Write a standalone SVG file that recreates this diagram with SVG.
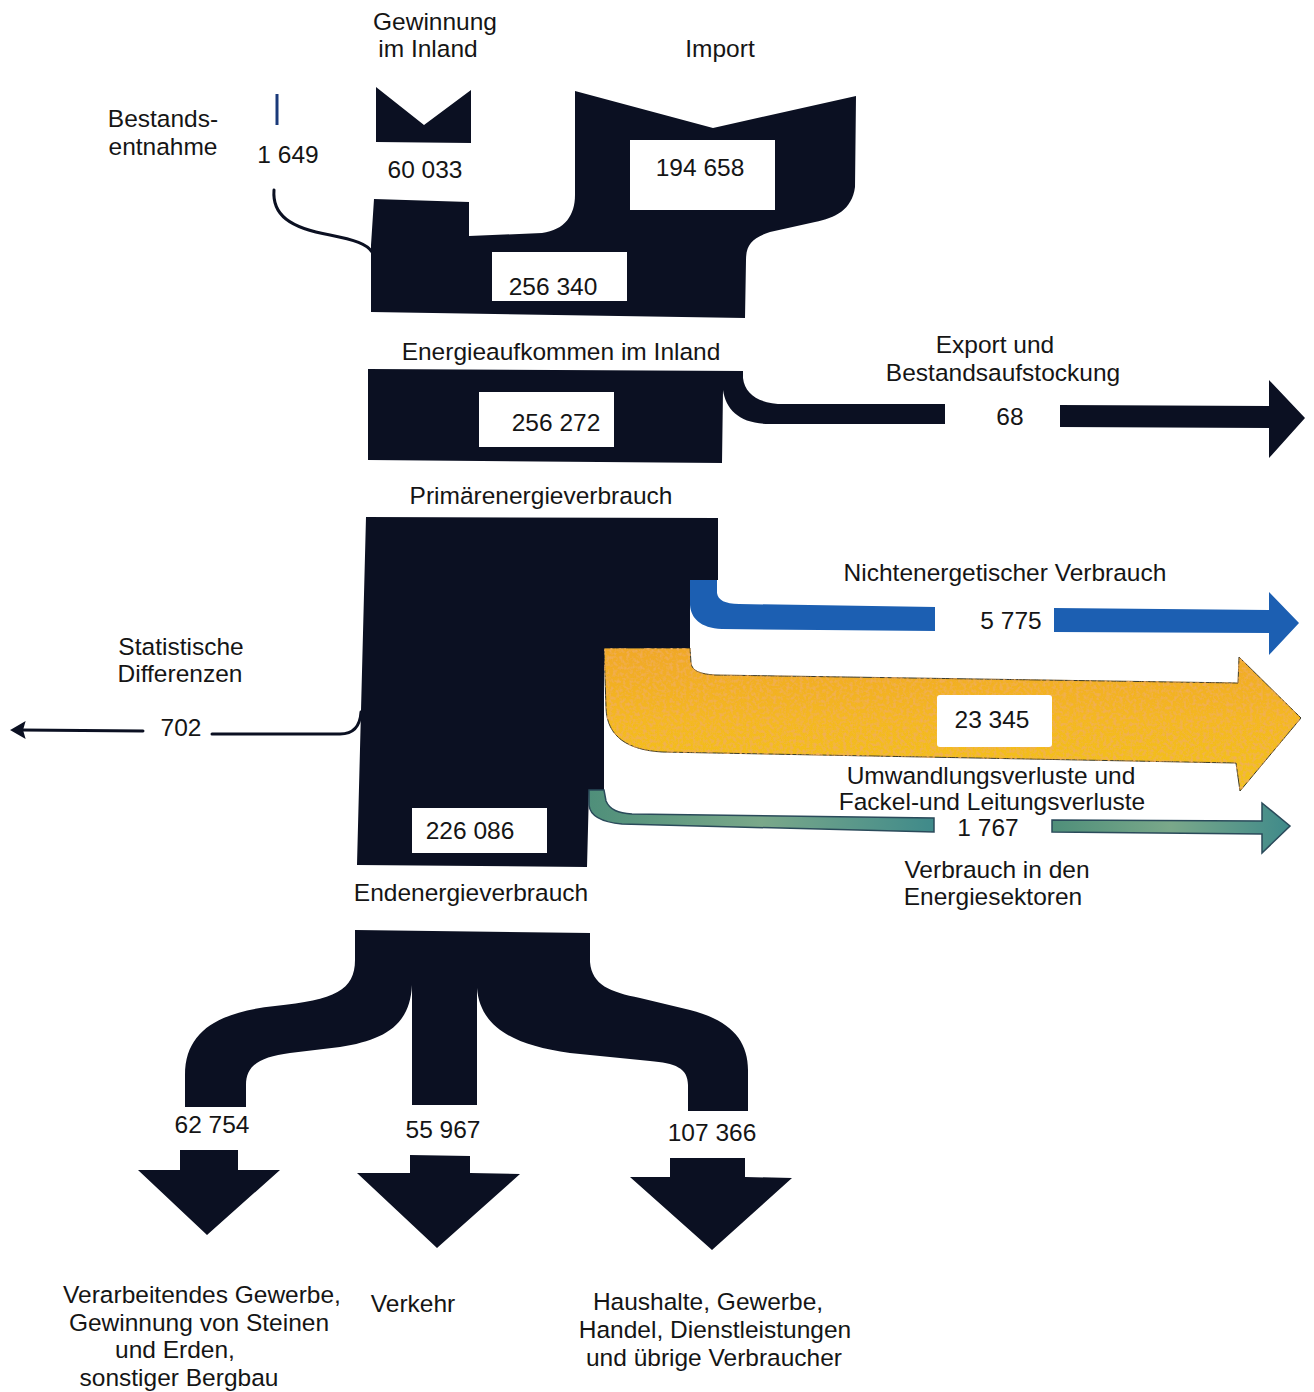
<svg xmlns="http://www.w3.org/2000/svg" width="1314" height="1392" viewBox="0 0 1314 1392">
<defs>
<style>
text{font-family:"Liberation Sans",Arial,sans-serif;font-size:24.5px;fill:#151515;text-anchor:middle}
.num{font-size:24.5px}
.dk{fill:#0b1022}
.box{fill:#ffffff}
.blue{fill:#1c5fb2}
.thin{fill:none;stroke:#0b1022;stroke-width:3;stroke-linecap:round}
</style>
<linearGradient id="og" x1="0" y1="0" x2="0" y2="1">
<stop offset="0" stop-color="#f0a828"/>
<stop offset="0.5" stop-color="#f4b820"/>
<stop offset="1" stop-color="#f2c21e"/>
</linearGradient>
<filter id="tex" x="0" y="0" width="1" height="1">
<feTurbulence type="fractalNoise" baseFrequency="0.3" numOctaves="2" seed="3" result="n"/>
<feColorMatrix in="n" type="matrix" values="0 0 0 0 0.88  0 0 0 0 0.42  0 0 0 0 0.1  2.5 0 0 0 -1.1" result="spots"/>
<feComposite in="spots" in2="SourceGraphic" operator="in" result="s2"/>
<feMerge><feMergeNode in="SourceGraphic"/><feMergeNode in="s2"/></feMerge>
</filter>
<linearGradient id="gg" x1="0" y1="0" x2="1" y2="0">
<stop offset="0" stop-color="#4f8f7a"/>
<stop offset="0.5" stop-color="#7aa88a"/>
<stop offset="1" stop-color="#3f8a8a"/>
</linearGradient>
</defs>

<g id="connectors">
<path id="c-bestand" d="M274,190 C272,215 290,228 330,235 C355,240 367,244 372,252" class="thin" stroke-width="2.5"/>
<line x1="277" y1="94" x2="277" y2="125" stroke="#1a3a7a" stroke-width="3"/>
<path id="c-stat" d="M361,712 C360,728 352,734 340,734 L212,734" class="thin"/>
<path d="M143,731 L22,730" class="thin"/>
<path d="M12,730 L24,723 L22,730 L24,737 Z" class="dk" stroke="#0b1022" stroke-width="2"/>
</g>

<g id="n-gewinnung">
<path class="dk" d="M376,87 L424,125 L471,90 L471,143 L376,142 Z"/>
<text x="435" y="30">Gewinnung</text>
<text x="428" y="57">im Inland</text>
<text class="num" x="425" y="178">60 033</text>
</g>

<g id="n-import-label">
<text x="720" y="57">Import</text>
</g>

<g id="n-bestand">
<text x="163" y="127">Bestands-</text>
<text x="163" y="155">entnahme</text>
<text class="num" x="288" y="163">1 649</text>
</g>

<g id="n-aufkommen">
<path class="dk" d="M374,199 L469,202 L469,236 L542,233 C565,230 575,215 575,195 L575,91 L713,128 L856,96 L855,187 C852,210 835,218 815,222 L770,232 C752,238 746,245 746,260 L745,318 L371,312 L371,245 Z"/>
<rect class="box" x="630" y="140" width="145" height="70"/>
<text class="num" x="700" y="176">194 658</text>
<rect class="box" x="492" y="252" width="135" height="49"/>
<text class="num" x="553" y="295">256 340</text>
<text x="561" y="360">Energieaufkommen im Inland</text>
</g>

<g id="n-primaer">
<path class="dk" d="M368,369 L743,371 L743,378 C745,395 760,404 784,404 L945,404 L945,424 L770,424 C740,424 726,410 723,390 L722,463 L368,460 Z"/>
<rect class="box" x="479" y="392" width="135" height="55"/>
<text class="num" x="556" y="431">256 272</text>
<text x="541" y="504">Primärenergieverbrauch</text>
</g>

<g id="n-export">
<path class="dk" d="M1060,405 L1269,406 L1269,380 L1305,418 L1269,458 L1269,428 L1060,427 Z"/>
<text x="995" y="353">Export und</text>
<text x="1003" y="381">Bestandsaufstockung</text>
<text class="num" x="1010" y="425">68</text>
</g>

<g id="n-end">
<path class="dk" d="M366,517 L718,518 L718,580 L690,580 L690,648 L604,648 L604,790 L589,790 L587,867 L357,865 Z"/>
<rect class="box" x="412" y="808" width="135" height="45"/>
<text class="num" x="470" y="839">226 086</text>
<text x="471" y="901">Endenergieverbrauch</text>
</g>

<g id="n-nichtenergetisch">
<path class="blue" d="M690,580 L717,580 L717,593 C718,600 725,604 739,604 L935,607 L935,631 L722,629 C700,628 691,618 690,605 Z"/>
<path class="blue" d="M1054,608 L1269,610 L1269,592 L1299,623 L1269,655 L1269,633 L1054,632 Z"/>
<text x="1005" y="581">Nichtenergetischer Verbrauch</text>
<text class="num" x="1011" y="629">5 775</text>
</g>

<g id="n-umwandlung">
<path fill="url(#og)" filter="url(#tex)" stroke="#3a3a2a" stroke-width="1" d="M604,648 L690,648 L691,663 C692,671 700,674 715,675 L1238,683 L1239,657 L1301,718 L1240,791 L1236,763 L662,752 C628,750 607,737 606,708 Z"/>
<rect class="box" x="937" y="695" width="115" height="52" rx="3"/>
<text class="num" x="992" y="728">23 345</text>
<text x="991" y="784">Umwandlungsverluste und</text>
<text x="992" y="810">Fackel-und Leitungsverluste</text>
</g>

<g id="n-energiesektoren">
<path fill="url(#gg)" stroke="#2a4a5a" stroke-width="1.5" d="M589,790 L604,790 L606,801 C610,810 618,813 632,814 L934,818 L934,832 L622,824 C600,822 590,815 589,805 Z"/>
<path fill="url(#gg)" stroke="#2a4a5a" stroke-width="1.5" d="M1052,820 L1262,821 L1262,803 L1290,826 L1262,853 L1262,834 L1052,832 Z"/>
<text class="num" x="988" y="836">1 767</text>
<text x="997" y="878">Verbrauch in den</text>
<text x="993" y="905">Energiesektoren</text>
</g>

<g id="n-stat">
<text x="181" y="655">Statistische</text>
<text x="180" y="682">Differenzen</text>
<text class="num" x="181" y="736">702</text>
</g>

<g id="n-verteilung">
<path class="dk" d="M355,930 L590,933 L590,962 C592,985 610,992 640,998 L690,1010 C730,1020 748,1040 748,1070 L748,1111 L688,1111 L688,1085 C688,1068 675,1063 650,1061 L570,1053 C510,1045 480,1025 477,988 L477,1105 L412,1105 L412,985 C410,1025 385,1040 340,1047 L290,1053 C260,1057 246,1065 246,1085 L246,1107 L185,1107 L185,1075 C185,1030 220,1012 275,1006 C335,1000 355,990 355,960 Z"/>
</g>

<g id="n-gewerbe">
<path class="dk" d="M180,1150 L238,1150 L238,1170 L280,1170 L207,1235 L138,1170 L180,1170 Z"/>
<text class="num" x="212" y="1133">62 754</text>
<text x="202" y="1303">Verarbeitendes Gewerbe,</text>
<text x="199" y="1331">Gewinnung von Steinen</text>
<text x="175" y="1358">und Erden,</text>
<text x="179" y="1386">sonstiger Bergbau</text>
</g>

<g id="n-verkehr">
<path class="dk" d="M410,1155 L470,1156 L470,1173 L520,1174 L437,1248 L357,1173 L410,1173 Z"/>
<text class="num" x="443" y="1138">55 967</text>
<text x="413" y="1312">Verkehr</text>
</g>

<g id="n-haushalte">
<path class="dk" d="M670,1158 L745,1158 L745,1177 L792,1178 L712,1250 L630,1177 L670,1177 Z"/>
<text class="num" x="712" y="1141">107 366</text>
<text x="708" y="1310">Haushalte, Gewerbe,</text>
<text x="715" y="1338">Handel, Dienstleistungen</text>
<text x="714" y="1366">und übrige Verbraucher</text>
</g>
</svg>
